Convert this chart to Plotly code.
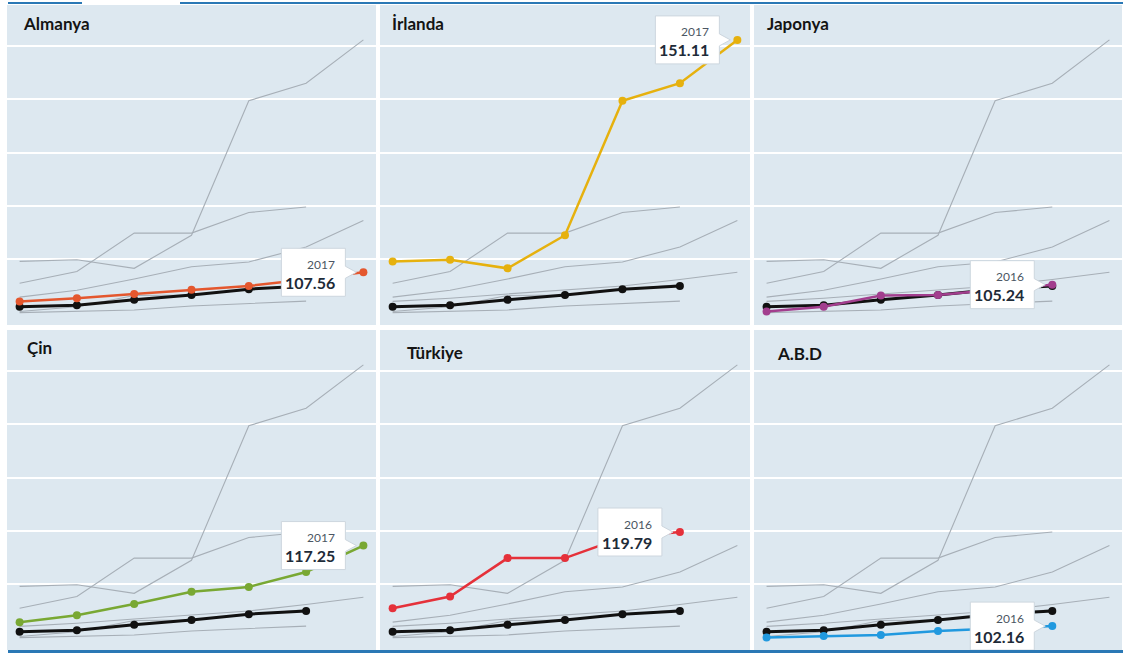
import plotly.graph_objects as go

# Yıllar ve ülke endeksleri (2011 = başlangıç yılı)
years = [2011, 2012, 2013, 2014, 2015, 2016, 2017]

almanya = [102.1, 102.7, 103.5, 104.3, 105.0, 106.2, 107.56]
irlanda = [109.6, 109.9, 108.3, 114.5, 139.7, 143.0, 151.11]
japonya = [100.2, 101.1, 103.2, 103.3, 104.3, 105.24]
cin = [102.9, 104.2, 106.3, 108.6, 109.5, 112.3, 117.25]
turkiye = [105.5, 107.7, 114.9, 114.9, 118.75, 119.79]
abd = [100.0, 100.3, 100.5, 101.25, 101.75, 102.16]
ortalama = [101.1, 101.4, 102.4, 103.3, 104.4, 105.0]

countries = ["Almanya", "İrlanda", "Japonya", "Çin", "Türkiye", "A.B.D"]
series = [almanya, irlanda, japonya, cin, turkiye, abd]
colors = ["#e4572e", "#e6b10e", "#a23e8e", "#79a833", "#e5313a", "#2199df"]

W, H = 1132, 653
col_px = [(7, 376), (380, 750), (754, 1122)]
row_px = [(5, 325), (330, 650)]
# title left edge / top, per panel
title_px = [(21, 11), (390, 11), (765, 11), (25, 335), (405, 340), (775, 341)]

fig = go.Figure()
layout_axes = {}
shapes = []
annotations = []

for i, (name, vals, col) in enumerate(zip(countries, series, colors)):
    r, c = divmod(i, 3)
    n = i + 1
    xa = "x" if n == 1 else f"x{n}"
    ya = "y" if n == 1 else f"y{n}"
    xkey = "xaxis" if n == 1 else f"xaxis{n}"
    ykey = "yaxis" if n == 1 else f"yaxis{n}"
    x0, x1 = col_px[c]
    t, b = row_px[r]
    layout_axes[xkey] = dict(domain=[x0 / W, x1 / W], range=[2010.78, 2017.22],
                             showgrid=False, zeroline=False, showticklabels=False,
                             anchor=ya, fixedrange=True)
    layout_axes[ykey] = dict(domain=[1 - b / H, 1 - t / H], range=[97.68, 157.65],
                             tickvals=[110, 120, 130, 140, 150], showgrid=True,
                             gridcolor="white", gridwidth=1.6, zeroline=False,
                             showticklabels=False, anchor=xa, fixedrange=True)

    # other countries as grey context lines
    for j, other in enumerate(series):
        if j == i:
            continue
        fig.add_trace(go.Scatter(x=years[:len(other)], y=other, xaxis=xa, yaxis=ya,
                                 mode="lines", line=dict(color="#a7afb7", width=1.1),
                                 hoverinfo="skip", showlegend=False))
    # average line
    fig.add_trace(go.Scatter(x=years[:len(ortalama)], y=ortalama, xaxis=xa, yaxis=ya,
                             mode="lines+markers", line=dict(color="#111111", width=3),
                             marker=dict(color="#111111", size=8),
                             name="Ortalama", showlegend=False))
    # highlighted country
    fig.add_trace(go.Scatter(x=years[:len(vals)], y=vals, xaxis=xa, yaxis=ya,
                             mode="lines+markers", line=dict(color=col, width=2.5),
                             marker=dict(color=col, size=8),
                             name=name, showlegend=False))

    # callout box on the last value
    last_year = years[len(vals) - 1]
    last_val = vals[-1]
    shapes.append(dict(type="path", xref=xa, yref=ya, xsizemode="pixel", ysizemode="pixel",
                       xanchor=last_year, yanchor=last_val,
                       path="M -82,24 L -18,24 L -18,6 L -7,0 L -18,-6 L -18,-24 L -82,-24 Z",
                       fillcolor="white", line=dict(color="#cdd6de", width=1), layer="above"))
    annotations.append(dict(x=last_year, y=last_val, xref=xa, yref=ya, showarrow=False,
                            xanchor="right", yanchor="middle", xshift=-26, yshift=8,
                            text=str(last_year),
                            font=dict(family="Lato", size=12, color="#4b5663")))
    annotations.append(dict(x=last_year, y=last_val, xref=xa, yref=ya, showarrow=False,
                            xanchor="right", yanchor="middle", xshift=-26, yshift=-10,
                            text=f"<b>{last_val:.2f}</b>",
                            font=dict(family="Lato", size=16, color="#1e2b38")))

    # panel title
    tx, ty = title_px[i]
    annotations.append(dict(x=tx / W, y=1 - ty / H, xref="paper", yref="paper",
                            xanchor="left", yanchor="top", showarrow=False,
                            text=f"<b>{name}</b>",
                            font=dict(family="Lato", size=17, color="#141414")))

# thin blue rules along the top and bottom edges
for xa0, xa1 in [(8, 82), (180, 1123)]:
    shapes.append(dict(type="line", xref="paper", yref="paper",
                       x0=xa0 / W, x1=xa1 / W, y0=1 - 3 / H, y1=1 - 3 / H,
                       line=dict(color="#2a78b5", width=2)))
shapes.append(dict(type="line", xref="paper", yref="paper",
                   x0=8 / W, x1=1123 / W, y0=1 - 651.5 / H, y1=1 - 651.5 / H,
                   line=dict(color="#2a78b5", width=3)))

fig.update_layout(width=W, height=H, margin=dict(l=0, r=0, t=0, b=0),
                  paper_bgcolor="white", plot_bgcolor="#dde8f0",
                  shapes=shapes, annotations=annotations, showlegend=False,
                  **layout_axes)

fig.write_html("out.html", config={"displayModeBar": False})
